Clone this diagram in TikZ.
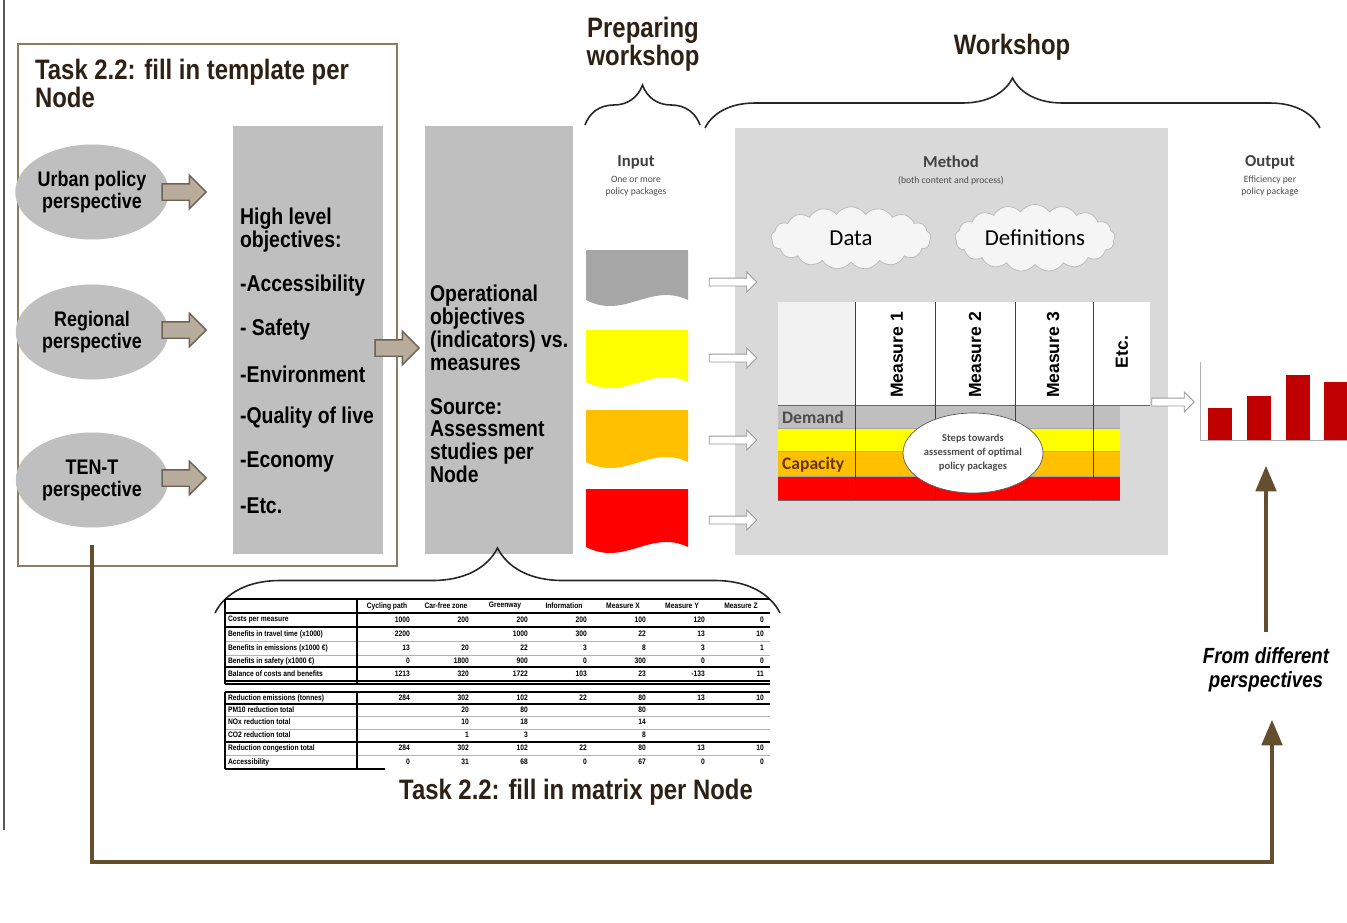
\documentclass[tikz,border=0pt]{standalone}
\usepackage{fontspec}
\setmainfont{Liberation Sans}
\newfontfamily\narrowfont[FakeStretch=0.85]{Liberation Sans}
\newfontfamily\calfont{Carlito}
\usetikzlibrary{arrows,positioning}
\usetikzlibrary{shapes.geometric,shapes.symbols,shapes.arrows}
\usetikzlibrary{decorations.pathreplacing}

\definecolor{framebrown}{RGB}{140,122,98}
\definecolor{loopbrown}{RGB}{100,78,45}
\definecolor{arrowfill}{RGB}{184,172,156}
\definecolor{arrowdraw}{RGB}{110,98,82}
\definecolor{colgray}{RGB}{191,191,191}
\definecolor{methodgray}{RGB}{217,217,217}
\definecolor{docgray}{RGB}{166,166,166}
\definecolor{docyellow}{RGB}{255,255,0}
\definecolor{docorange}{RGB}{255,192,0}
\definecolor{docred}{RGB}{255,0,0}
\definecolor{barred}{RGB}{192,0,0}
\definecolor{titleink}{RGB}{45,33,20}

\tikzset{
  fatarrow/.style={single arrow,draw=arrowdraw,fill=arrowfill,line width=0.8pt,
    inner sep=0.15cm,single arrow head extend=0.17cm,minimum height=0.88cm},
  hollowarrow/.style={single arrow,draw=gray!80,fill=white,line width=0.5pt,
    inner sep=0.07cm,single arrow head extend=0.12cm,minimum height=0.95cm},
  perspective/.style={ellipse,fill=colgray,minimum width=3.05cm,minimum height=1.9cm,
    align=center,inner sep=0pt,font=\narrowfont\bfseries\fontsize{12}{12.5}\selectfont},
  boldtext/.style={anchor=west,inner sep=1pt,align=left,
    font=\narrowfont\bfseries\fontsize{13}{13}\selectfont},
  bigtitle/.style={align=center,inner sep=1pt,text=titleink,
    font=\narrowfont\bfseries\fontsize{16}{16}\selectfont},
  headnote/.style={inner sep=1pt,text=black!75,font=\calfont\bfseries\fontsize{9.5}{11}\selectfont},
  smallnote/.style={inner sep=1pt,align=center,text=gray!60!black,
    font=\calfont\fontsize{5.5}{6.5}\selectfont},
  cloudbox/.style={cloud,cloud puffs=17,cloud puff arc=110,aspect=2.6,draw=gray!55,fill=gray!8,
    inner sep=0pt,minimum width=3.2cm,minimum height=1.25cm,font=\calfont\fontsize{13}{15}\selectfont},
  measurelabel/.style={rotate=90,inner sep=0pt,font=\bfseries\fontsize{10}{10}\selectfont},
  rowlabel/.style={anchor=west,inner sep=1pt,font=\calfont\bfseries\fontsize{10}{10}\selectfont},
  tabcell/.style={inner sep=1pt,font=\narrowfont\bfseries\fontsize{4.5}{5}\selectfont},
  bracepath/.style={decorate,decoration={brace,amplitude=#1},black!85,line width=0.9pt},
  loopline/.style={loopbrown,line width=2.4pt,-triangle 45},
}

\begin{document}
\begin{tikzpicture}[x=0.02cm,y=-0.02cm]
\useasboundingbox (0,0) rectangle (1347,923);
\draw[gray!70!black,line width=0.6pt] (4,0) -- (4,830);

% task 2.2 template box
\draw[framebrown,line width=1.2pt] (18,44) rectangle (397,566);
\node[bigtitle,align=left,anchor=north west] (tasktitle) at (33,57) {Task 2.2: fill in template per\\Node};

\node[perspective] (urban) at (92,192) {Urban policy\\perspective};
\node[perspective] (regional) at (92,332) {Regional\\perspective};
\node[perspective] (tent) at (92,480) {TEN-T\\perspective};
\node[fatarrow] (arr1) at (180,192) {};
\node[fatarrow] (arr2) at (180,330) {};
\node[fatarrow] (arr3) at (180,478) {};

\node[fill=colgray,inner sep=0pt,minimum width=3cm,minimum height=8.56cm,anchor=north west] (highcol) at (233,126) {};
\node[boldtext,anchor=north west] (highhead) at (238,206) {High level\\objectives:};
\foreach \item [count=\i] in {-Accessibility,- Safety,-Environment,-Quality of live,-Economy,-Etc.}
  \node[boldtext] (hl\i) at (238,{242+44*\i}) {\item};
\node[fatarrow] (arr4) at (393,348) {};

\node[fill=colgray,inner sep=0pt,minimum width=2.96cm,minimum height=8.56cm,anchor=north west] (opcol) at (425,126) {};
\node[boldtext,anchor=north west] (ophead) at (428,283) {Operational\\objectives\\(indicators) vs.\\measures};
\node[boldtext,anchor=north west] (source) at (428,396) {Source:\\Assessment\\studies per\\Node};

% preparing workshop
\node[bigtitle] (prep) at (643,44) {Preparing\\workshop};
\draw[bracepath=0.8cm] (585,125) -- (700,125);
\node[headnote] (input) at (636,162) {Input};
\node[smallnote] (inputnote) at (636,186) {One or more\\policy packages};
\foreach \col/\yy/\hh in {docgray/250/50,docyellow/330/52,docorange/410/52,docred/489/58}
  \fill[\col] (586,\yy) -- (688,\yy) -- (688,\yy+\hh) .. controls (650,\yy+\hh-18) and (625,\yy+\hh+20) .. (586,\yy+\hh) -- cycle;

% workshop
\node[bigtitle] (workshop) at (1012,47) {Workshop};
\draw[bracepath=1cm] (705,128) -- (1320,128);
\fill[methodgray] (735,128) rectangle (1168,555);
\foreach \yy [count=\i] in {282,358,440,520}
  \node[hollowarrow] (inarr\i) at (731,\yy) {};
\node[headnote] (method) at (951,162) {Method};
\node[smallnote] (methodnote) at (951,181) {(both content and process)};
\node[cloudbox] (data) at (851,238) {Data};
\node[cloudbox] (defs) at (1035,238) {Definitions};

\fill[gray!10] (778,302) rectangle (855,405);
\fill[white] (855,302) rectangle (1150,405);
\fill[colgray] (778,405) rectangle (1120,428);
\fill[docyellow] (778,428) rectangle (1120,451);
\fill[docorange] (778,451) rectangle (1120,476);
\fill[docred] (778,476) rectangle (1120,500);
\draw[black!35] (778,428) -- (1120,428) (778,451) -- (1120,451) (778,476) -- (1120,476);
\draw[black!60] (778,405) -- (1150,405) (778,500) -- (1120,500);
\foreach \xx in {855,935,1015,1093}
  \draw[black!75,line width=0.5pt] (\xx,302) -- (\xx,500);
\foreach \xx/\txt [count=\i] in {897/Measure 1,975/Measure 2,1053/Measure 3}
  \node[measurelabel] (meas\i) at (\xx,355) {\txt};
\node[measurelabel] (measetc) at (1122,352) {Etc.};
\node[rowlabel,text=black!70] (demand) at (780,417) {Demand};
\node[rowlabel,text=black!60!orange] (capacity) at (780,465) {Capacity};
\node[ellipse,draw=gray!70!black,fill=white,minimum width=2.8cm,minimum height=1.6cm,align=center,
  inner sep=0pt,text=gray!60!black,font=\calfont\bfseries\fontsize{6}{8}\selectfont] (steps) at (973,453)
  {Steps towards\\assessment of optimal\\policy packages};

% output
\node[hollowarrow,minimum height=0.85cm] (outarr) at (1171,402) {};
\node[headnote] (output) at (1270,162) {Output};
\node[smallnote] (outputnote) at (1270,186) {Efficiency per\\policy package};
\draw[gray!60] (1200,362) -- (1200,440) -- (1347,440);
\foreach \xx/\yy in {1208/408,1247/396,1286/375,1324/382}
  \fill[barred] (\xx,\yy) rectangle (\xx+24,440);
\coordinate (chartbase) at (1266,466);
\node[font=\narrowfont\bfseries\itshape\fontsize{12.5}{13.5}\selectfont,align=center,inner sep=1pt] (diff) at (1266,670)
  {From different\\perspectives};
\coordinate (rise) at (1266,632);
\draw[loopline] (rise) -- (chartbase);

% matrix
\draw[bracepath=1.3cm] (215,613) -- (780,613);
\foreach \yy in {599,613,627,667,681,684,692,704,742}
  \draw[black,line width=0.7pt] (225,\yy) -- (770,\yy);
\foreach \yy in {641,655,716,729,755}
  \draw[black!30,line width=0.4pt] (225,\yy) -- (770,\yy);
\draw[black,line width=0.7pt] (225,769) -- (385,769);
\foreach \xx in {225,357}
  \draw[black,line width=0.8pt] (\xx,599) -- (\xx,684) (\xx,692) -- (\xx,769);
\foreach \txt [count=\c] in {Cycling path,Car-free zone,Greenway,Information,Measure X,Measure Y,Measure Z}
  \node[tabcell] (th\c) at ({357+59*\c-29},606) {\txt};
\foreach \txt/\yy [count=\r] in {Costs per measure/620,Benefits in travel time (x1000)/634,
    Benefits in emissions (x1000 €)/648,Benefits in safety (x1000 €)/661,Balance of costs and benefits/674,
    Reduction emissions (tonnes)/698,PM10 reduction total/710,NOx reduction total/722,CO2 reduction total/735,
    Reduction congestion total/748,Accessibility/762}
  \node[tabcell,anchor=west] (tl\r) at (226,\yy) {\txt};
\foreach \row/\yy [count=\r] in {{1000,200,200,200,100,120,0}/620,{2200,,1000,300,22,13,10}/634,
    {13,20,22,3,8,3,1}/648,{0,1800,900,0,300,0,0}/661,{1213,320,1722,103,23,-133,11}/674,
    {284,302,102,22,80,13,10}/698,{,20,80,,80,,}/710,{,10,18,,14,,}/722,{,1,3,,8,,}/735,
    {284,302,102,22,80,13,10}/748,{0,31,68,0,67,0,0}/762}
  \foreach \v [count=\c] in \row
    \node[tabcell,anchor=east] (tv\r-\c) at ({357+59*\c-4},\yy) {\v};
\node[bigtitle] (matrixtitle) at (576,792) {Task 2.2: fill in matrix per Node};

% feedback loop
\coordinate (loopstart) at (92,545);
\coordinate (loopcorner) at (92,862);
\coordinate (loopend) at (1272,720);
\draw[loopline] (loopstart) -- (loopcorner) -| (loopend);
\end{tikzpicture}
\end{document}
